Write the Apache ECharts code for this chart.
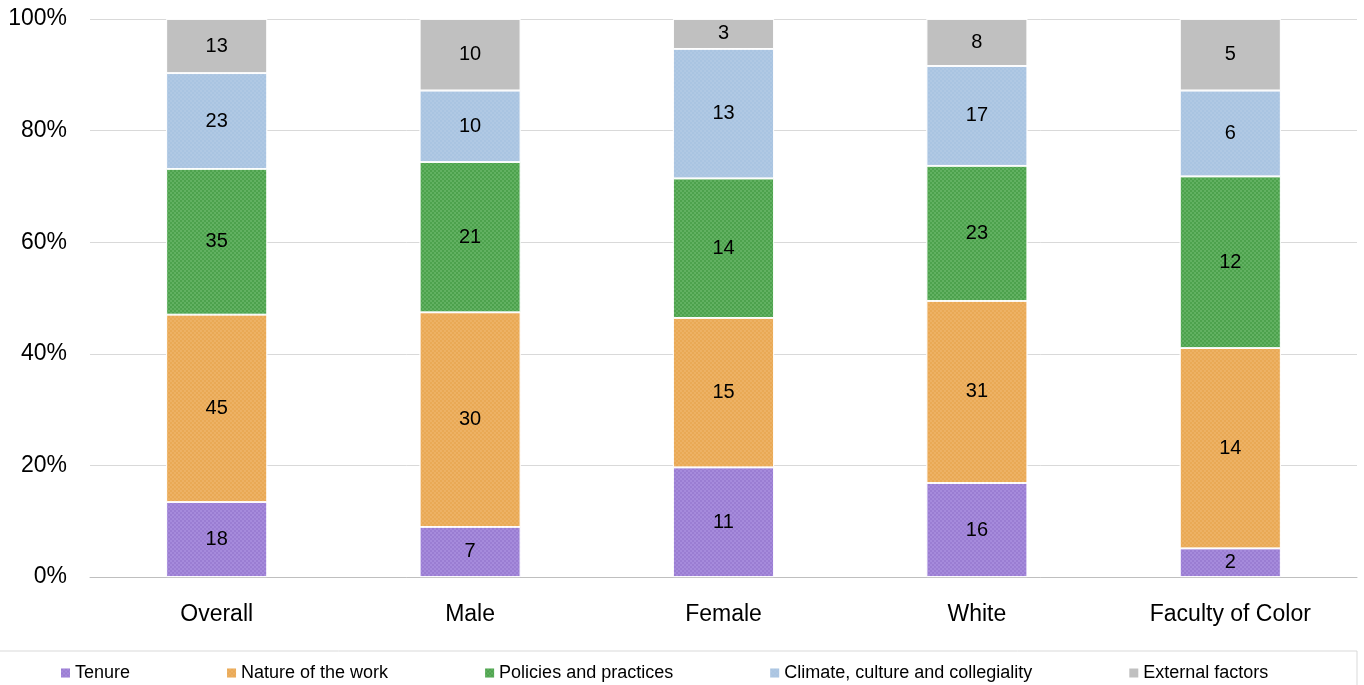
<!DOCTYPE html>
<html>
<head>
<meta charset="utf-8">
<script src="https://cdn.jsdelivr.net/npm/echarts@6/dist/echarts.min.js"></script>
<style>
html,body{margin:0;padding:0;background:#fff;}
#chart{width:1364px;height:685px;}
</style>
</head>
<body>
<div id="chart"></div>
<script>
var categories = ['Overall', 'Male', 'Female', 'White', 'Faculty of Color'];
var seriesNames = ['Tenure', 'Nature of the work', 'Policies and practices', 'Climate, culture and collegiality', 'External factors'];
var tenure = [18, 7, 11, 16, 2];
var natureOfWork = [45, 30, 15, 31, 14];
var policies = [35, 21, 14, 23, 12];
var climate = [23, 10, 13, 17, 6];
var external = [13, 10, 3, 8, 5];
var yTicks = [0, 20, 40, 60, 80, 100];

var colors = ['#9a7dd2', '#e9a955', '#4da24d', '#a9c4e1', '#c0c0c0'];
var decalColors = ['rgba(190,170,240,0.55)', 'rgba(250,200,140,0.5)', 'rgba(140,210,140,0.55)', 'rgba(200,215,235,0.4)', 'rgba(200,200,200,0)'];

var counts = [tenure, natureOfWork, policies, climate, external];
var totals = categories.map(function (c, i) {
  var s = 0;
  counts.forEach(function (arr) { s += arr[i]; });
  return s;
});

var FONT = 'Liberation Sans, Arial, sans-serif';

var series = counts.map(function (arr, k) {
  return {
    name: seriesNames[k],
    type: 'bar',
    stack: 'total',
    barWidth: 101,
    data: arr.map(function (v, i) { return { value: v / totals[i] * 100, count: v }; }),
    itemStyle: {
      color: colors[k],
      borderColor: '#ffffff',
      borderWidth: 0.8,
      decal: {
        symbol: 'rect',
        symbolSize: 0.8,
        color: decalColors[k],
        dashArrayX: [[2, 2], [0, 2, 2, 0]],
        dashArrayY: [2, 0],
        rotation: 0
      }
    },
    label: {
      show: true,
      position: 'inside',
      fontFamily: FONT,
      fontSize: 20,
      color: '#000',
      formatter: function (p) { return p.data.count; }
    },
    emphasis: { disabled: true }
  };
});

var chart = echarts.init(document.getElementById('chart'));
chart.setOption({
  animation: false,
  backgroundColor: '#fff',
  textStyle: { fontFamily: FONT },
  grid: { left: 90, right: 7, top: 19, bottom: 108, containLabel: false },
  xAxis: {
    type: 'category',
    data: categories,
    axisLine: { show: true, lineStyle: { color: '#bfbfbf', width: 1 } },
    axisTick: { show: false },
    axisLabel: { fontSize: 23, color: '#000', margin: 26, fontFamily: FONT }
  },
  yAxis: {
    type: 'value',
    min: yTicks[0],
    max: yTicks[yTicks.length - 1],
    interval: yTicks[1] - yTicks[0],
    axisLine: { show: false },
    axisTick: { show: false },
    splitLine: { lineStyle: { color: '#d9d9d9', width: 1 } },
    axisLabel: { fontSize: 23, color: '#000', margin: 23, formatter: '{value}%', fontFamily: FONT }
  },
  legend: {
    left: 56,
    top: 659,
    itemWidth: 9,
    itemHeight: 9,
    itemGap: 97,
    icon: 'rect',
    itemStyle: { borderWidth: 0 },
    textStyle: { fontSize: 18, color: '#000', fontFamily: FONT },
    data: seriesNames
  },
  graphic: [{
    type: 'rect',
    shape: { x: -1, y: 651, width: 1358, height: 60 },
    style: { fill: 'none', stroke: '#d9d9d9', lineWidth: 1 },
    silent: true,
    z: -1
  }],
  series: series
});
</script>
</body>
</html>
